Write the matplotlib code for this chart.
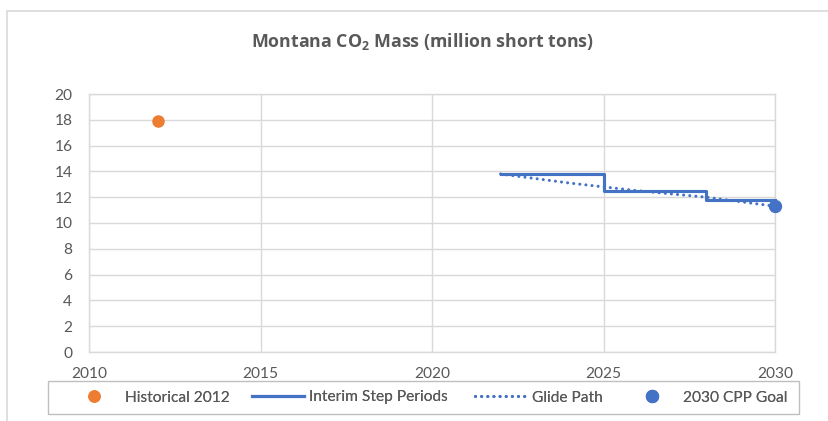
import matplotlib
matplotlib.use("Agg")
import matplotlib.pyplot as plt
from matplotlib.patches import Rectangle

# Data
hist_year = [2012]
hist_val = [17.9]
step_years = [2022, 2025, 2028, 2030]
step_vals = [13.8, 12.5, 11.8, 11.8]
glide_years = [2022, 2023, 2024, 2025, 2026, 2027, 2028, 2029, 2030]
glide_vals = [13.8, 13.45, 13.1, 12.8, 12.5, 12.25, 12.0, 11.65, 11.3]
goal_year = [2030]
goal_val = [11.3]
x_ticks = [2010, 2015, 2020, 2025, 2030]
y_ticks = list(range(0, 21, 2))

ORANGE = "#ED7D31"
BLUE = "#4472C4"
GRID = "#D9D9D9"
TXT = "#595959"
FS = 11.2

plt.rcParams['font.family'] = ['Lato', 'DejaVu Sans']

W, H = 829, 421
fig = plt.figure(figsize=(W / 100, H / 100), dpi=100)
fig.patches.append(Rectangle((7 / W, -0.1), 1.2, 1 - 11 / H + 0.1, transform=fig.transFigure,
                             fill=False, edgecolor=GRID, linewidth=1.2))

ax = fig.add_axes([89 / W, 1 - 352 / H, (775 - 89) / W, (352 - 94) / H])
ax.set_xlim(2010, 2030)
ax.set_ylim(0, 20)
ax.set_xticks(x_ticks)
ax.set_yticks(y_ticks)
ax.grid(True, color=GRID, linewidth=1)
ax.set_axisbelow(True)
for s in ax.spines.values():
    s.set_color(GRID)
    s.set_linewidth(1)
ax.tick_params(length=0, labelsize=FS, labelcolor=TXT)
ax.tick_params(axis='x', pad=11)
ax.tick_params(axis='y', pad=12)

h1, = ax.plot(hist_year, hist_val, 'o', color=ORANGE, markersize=8, label='Historical 2012', zorder=4)
h2, = ax.plot(step_years, step_vals, drawstyle='steps-post', color=BLUE, linewidth=2.25,
              label='Interim Step Periods', zorder=3, clip_on=False)
h3, = ax.plot(glide_years, glide_vals, color=BLUE, linewidth=2.2, linestyle=(0, (0.01, 2.0)),
              dash_capstyle='round', label='Glide Path', zorder=3, clip_on=False)
h4, = ax.plot(goal_year, goal_val, 'o', color=BLUE, markersize=8.6, label='2030 CPP Goal',
              zorder=5, clip_on=False)

fig.text(423 / W, 1 - 41 / H, r'Montana CO$_\mathregular{2}$ Mass (million short tons)',
         ha='center', va='center', fontsize=12.8, fontweight='bold', color=TXT,
         family=['Open Sans', 'DejaVu Sans'])

# Legend frame
fig.patches.append(Rectangle((48 / W, 1 - 414 / H), (799 - 48) / W, (414 - 381) / H,
                             transform=fig.transFigure, fill=False, edgecolor='#BFBFBF',
                             linewidth=1, zorder=1))
handles = [h1, h2, h3, h4]
starts = [68, 252, 475, 626]
hl_px = 52
for hnd, x0 in zip(handles, starts):
    lg = fig.legend([hnd], [hnd.get_label()], loc='center left',
                    bbox_to_anchor=(x0 / W, 1 - 397.5 / H), frameon=False,
                    fontsize=FS, handlelength=hl_px / (FS * 100 / 72),
                    handletextpad=5 / (FS * 100 / 72), borderpad=0, borderaxespad=0,
                    labelcolor=TXT, markerscale=1.0)
    fig.add_artist(lg)

fig.savefig('out.png', dpi=100)
